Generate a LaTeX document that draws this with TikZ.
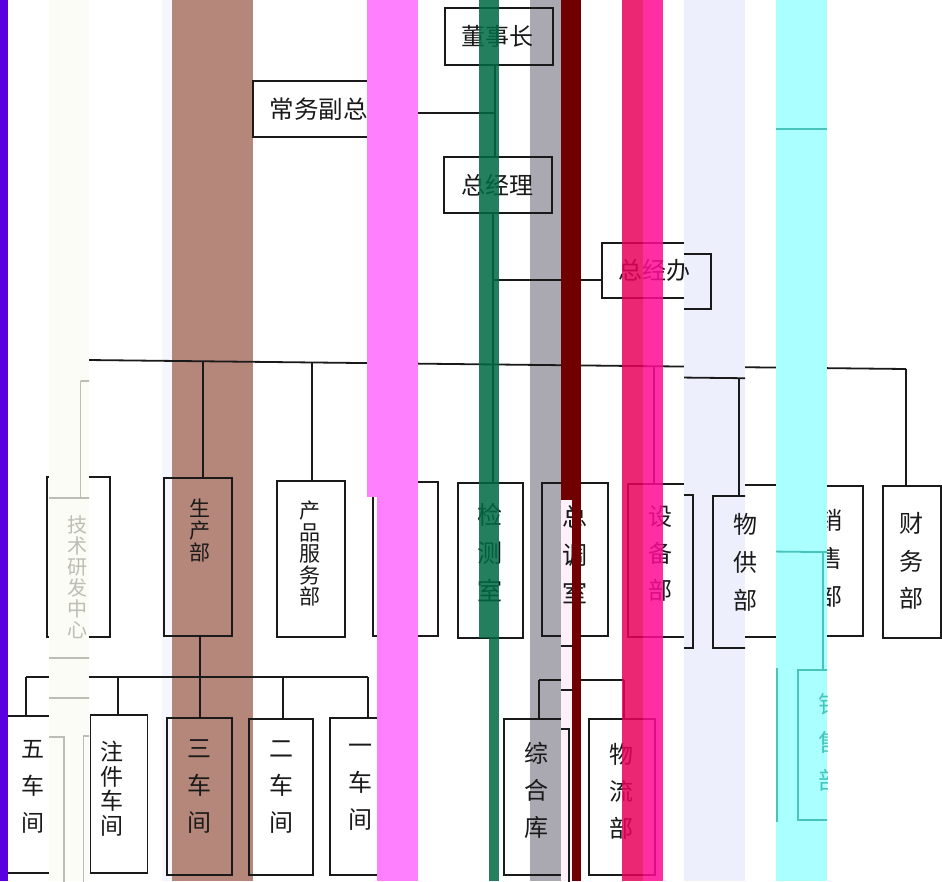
\documentclass[tikz,border=0pt]{standalone}
\usepackage{fontspec}
\newfontfamily\cjk{Noto Sans CJK SC}
\definecolor{ink}{HTML}{1A1A1A}
\definecolor{cPurple}{HTML}{5A00E0}
\definecolor{cBrown}{HTML}{B5877A}
\definecolor{cFaint}{HTML}{F6F6FF}
\definecolor{cGrey}{HTML}{AAA9B1}
\definecolor{cGreen}{HTML}{006A45}
\definecolor{cCrimson}{HTML}{E8005A}
\definecolor{cHot}{HTML}{FF0A94}
\definecolor{cMagenta}{HTML}{FF80FF}
\definecolor{cDarkRed}{HTML}{700000}
\definecolor{cPale}{HTML}{FDF0F8}
\definecolor{cLav}{HTML}{EDF0FC}
\definecolor{cCyan}{HTML}{AAFFFF}
\definecolor{cTeal}{HTML}{48C4BC}
\definecolor{cCream}{HTML}{FCFCF6}
\definecolor{cCreamInk}{HTML}{BDBDB5}
\tikzset{
  bx/.style={draw=ink, line width=1.9pt, rectangle, inner sep=0pt},
  ln/.style={draw=ink, line width=1.8pt},
  vt/.style 2 args={text=ink, inner sep=0pt, align=center, font=\cjk\fontsize{#1}{#2}\selectfont},
  ht/.style={text=ink, inner sep=0pt, font=\cjk\fontsize{#1}{#1}\selectfont},
}
\newif\ifcopymode
\def\copyid{}
% text node: id, style, position, text.
% In a shifted copy only the listed texts are set; texts fully hidden in the main layer are skipped there.
\newcommand\T[4]{%
  \ifcopymode
    \ifcsname show@\copyid @#1\endcsname\node[#2] (#1t) at #3 {#4};\fi
  \else
    \ifcsname hide@#1\endcsname\else\node[#2] (#1t) at #3 {#4};\fi
  \fi}
\expandafter\def\csname show@cy@xsb\endcsname{}
\expandafter\def\csname show@cr@jsyf\endcsname{}
\expandafter\def\csname hide@jsyf\endcsname{}
% boxes and connectors
\newcommand\chartboxes{%
  \node[bx, minimum width=108pt, minimum height=57pt] (dsz) at (499,36.5) {};
  \node[bx, minimum width=163pt, minimum height=56pt] (cwfz) at (334.5,109) {};
  \node[bx, minimum width=108pt, minimum height=56pt] (zjl) at (498,185) {};
  \node[bx, minimum width=109pt, minimum height=55pt] (zjb) at (656.5,270.5) {};
  \node[bx, minimum width=63pt, minimum height=160pt] (jsyf) at (78.5,557) {};
  \node[bx, minimum width=68pt, minimum height=158pt] (scb) at (198,557) {};
  \node[bx, minimum width=68pt, minimum height=156pt] (cpfw) at (311,559) {};
  \node[bx, minimum width=65pt, minimum height=154pt] (hbox) at (405.5,559) {};
  \node[bx, minimum width=65pt, minimum height=155pt] (jcs) at (490.5,560.5) {};
  \node[bx, minimum width=66pt, minimum height=153pt] (zds) at (575,559.5) {};
  \node[bx, minimum width=65pt, minimum height=153pt] (sbb) at (660.5,560.5) {};
  \node[bx, minimum width=64pt, minimum height=152pt] (wgb) at (745,561) {};
  \node[bx, minimum width=65pt, minimum height=150pt] (xsb) at (830.5,561) {};
  \node[bx, minimum width=58pt, minimum height=152pt] (cwb) at (912,562) {};
  \node[bx, minimum width=78pt, minimum height=157pt] (wcj) at (32,794.5) {};
  \node[bx, minimum width=57pt, minimum height=158pt] (zjcj) at (119,794) {};
  \node[bx, minimum width=65pt, minimum height=157pt] (scj) at (199.5,796.5) {};
  \node[bx, minimum width=64pt, minimum height=156pt] (ecj) at (281,797) {};
  \node[bx, minimum width=62pt, minimum height=157pt] (ycj) at (361,796.5) {};
  \node[bx, minimum width=65pt, minimum height=156pt] (zhk) at (536.5,797) {};
  \node[bx, minimum width=66pt, minimum height=156pt] (wlb) at (622,797) {};
  % connectors top
  \coordinate (t1) at (495,113);
  \draw[ln] (t1 |- dsz.south) -- (t1 |- zjl.north);
  \draw[ln] (t1) -- (t1 -| cwfz.east);
  \coordinate (t2) at (493,280);
  \draw[ln] (t2 |- zjl.south) -- (t2 |- jcs.north);
  \draw[ln] (t2) -- (t2 -| zjb.west);
  % main line
  \coordinate (mL) at (87.5,360);
  \coordinate (mR) at (906,369);
  \draw[ln] (mL) -- (mR);
  \coordinate (m1) at (203,361.2);
  \coordinate (m2) at (312,362.4);
  \coordinate (m3) at (405,363.5);
  \coordinate (m5) at (575,365.3);
  \coordinate (m6) at (654,366.2);
  \coordinate (m7) at (739,367.2);
  \coordinate (m8) at (823,368.1);
  \draw[ln] (mL) -- (mL |- jsyf.north);
  \draw[ln] (m1) -- (m1 |- scb.north);
  \draw[ln] (m2) -- (m2 |- cpfw.north);
  \draw[ln] (m3) -- (m3 |- hbox.north);
  \draw[ln] (m5) -- (m5 |- zds.north);
  \draw[ln] (m6) -- (m6 |- sbb.north);
  \draw[ln] (m7) -- (m7 |- wgb.north);
  \draw[ln] (m8) -- (m8 |- xsb.north);
  \draw[ln] (mR) -- (mR |- cwb.north);
  % workshops bus
  \coordinate (b0) at (200,677);
  \coordinate (bL) at (26,677);
  \coordinate (b1) at (118,677);
  \coordinate (b3) at (283,677);
  \coordinate (bR) at (368,677);
  \draw[ln] (b0 |- scb.south) -- (b0);
  \draw[ln] (bL) -- (bR);
  \draw[ln] (bL) -- (bL |- wcj.north);
  \draw[ln] (b1) -- (b1 |- zjcj.north);
  \draw[ln] (b0) -- (b0 |- scj.north);
  \draw[ln] (b3) -- (b3 |- ecj.north);
  \draw[ln] (bR) -- (bR |- ycj.north);
  % dispatch bus
  \coordinate (z0) at (575,680);
  \coordinate (zL) at (539,680);
  \coordinate (zR) at (624,680);
  \draw[ln] (z0 |- zds.south) -- (z0);
  \draw[ln] (zL) -- (zR);
  \draw[ln] (zL) -- (zL |- zhk.north);
  \draw[ln] (zR) -- (zR |- wlb.north);
}
% texts
\newcommand\charttexts{%
  \T{dsz}{ht=24}{(497,36)}{董事长}
  \T{cwfz}{ht=24.5}{(343,109)}{常务副总经理}
  \T{zjl}{ht=24}{(497,185)}{总经理}
  \T{zjb}{ht=24}{(654,270)}{总经办}
  \T{jsyf}{vt={20}{21}}{(84,556.5)}{技\\术\\研\\发\\中\\心}
  \T{scb}{vt={21}{22}}{(200,530)}{生\\产\\部}
  \T{cpfw}{vt={21}{21.5}}{(310,553.5)}{产\\品\\服\\务\\部}
  \T{jcs}{vt={25}{38}}{(490,553)}{检\\测\\室}
  \T{zds}{vt={25}{38}}{(575,555)}{总\\调\\室}
  \T{sbb}{vt={24}{37}}{(660,554)}{设\\备\\部}
  \T{wgb}{vt={24}{38}}{(745,562)}{物\\供\\部}
  \T{xsb}{vt={24}{38}}{(830,558)}{销\\售\\部}
  \T{cwb}{vt={24}{37.5}}{(911,561)}{财\\务\\部}
  \T{wcj}{vt={23}{37}}{(33,786.5)}{五\\车\\间}
  \T{zjcj}{vt={23}{24.5}}{(112,788.5)}{注\\件\\车\\间}
  \T{scj}{vt={24}{37}}{(199.5,787)}{三\\车\\间}
  \T{ecj}{vt={24}{37}}{(281,787)}{二\\车\\间}
  \T{ycj}{vt={24}{37}}{(360,787)}{一\\车\\间}
  \T{zhk}{vt={24}{37}}{(536,790)}{综\\合\\库}
  \T{wlb}{vt={24}{37}}{(621,791)}{物\\流\\部}
}
\begin{document}
\begin{tikzpicture}[x=1pt,y=-1pt]
  \useasboundingbox (0,0) rectangle (942,881);
  \clip (0,0) rectangle (942,881);
  \fill[white] (0,0) rectangle (942,881);
  % stripes under the chart
  \fill[cFaint] (162,0) rectangle (172,881);
  \fill[cBrown] (172,0) rectangle (253,881);
  \fill[cGrey] (530,0) rectangle (561,881);
  % the chart's boxes and connectors
  \chartboxes
  % pale pink band with shifted lines
  \begin{scope}
    \clip (561,500) rectangle (572,881);
    \fill[cPale] (561,500) rectangle (572,881);
    \begin{scope}[shift={(0,10)}, name prefix=pp-]
      \chartboxes
    \end{scope}
  \end{scope}
  % lavender band with shifted lines
  \begin{scope}
    \clip (684,0) rectangle (745,881);
    \fill[cLav] (684,0) rectangle (745,881);
    \begin{scope}[shift={(0,11)}, name prefix=lv-]
      \chartboxes
    \end{scope}
  \end{scope}
  % the chart's texts
  \charttexts
  % translucent stripes
  \fill[cGreen, fill opacity=0.86] (479,0) rectangle (499,638);
  \fill[cGreen, fill opacity=0.86] (489,638) rectangle (499,881);
  \fill[cCrimson, fill opacity=0.85] (622,0) rectangle (643,881);
  \fill[cHot, fill opacity=0.85] (643,0) rectangle (663,881);
  % opaque stripes
  \fill[cPurple] (0,0) rectangle (8,881);
  \fill[cMagenta] (367,0) rectangle (418,497);
  \fill[cMagenta] (377,497) rectangle (418,881);
  \fill[cDarkRed] (561,0) rectangle (581,500);
  \fill[cDarkRed] (572,500) rectangle (581,881);
  % cyan band with shifted faint content
  \begin{scope}
    \clip (776,0) rectangle (827,881);
    \fill[cCyan] (776,0) rectangle (827,881);
    \begin{scope}[shift={(0,184)}, name prefix=cy-]
      \copymodetrue\def\copyid{cy}%
      \colorlet{ink}{cTeal}%
      \chartboxes
      \charttexts
    \end{scope}
    \coordinate (cyA) at (776,129);
    \coordinate (cyB) at (827,129);
    \draw[cTeal, line width=1.2pt] (cyA) -- (cyB);
  \end{scope}
  % cream band with shifted faint content
  \begin{scope}
    \clip (49,0) rectangle (89,881);
    \fill[cCream] (49,0) rectangle (89,881);
    \begin{scope}[shift={(-7,21)}, name prefix=cr-]
      \copymodetrue\def\copyid{cr}%
      \colorlet{ink}{cCreamInk}%
      \chartboxes
      \charttexts
    \end{scope}
  \end{scope}
\end{tikzpicture}
\end{document}
